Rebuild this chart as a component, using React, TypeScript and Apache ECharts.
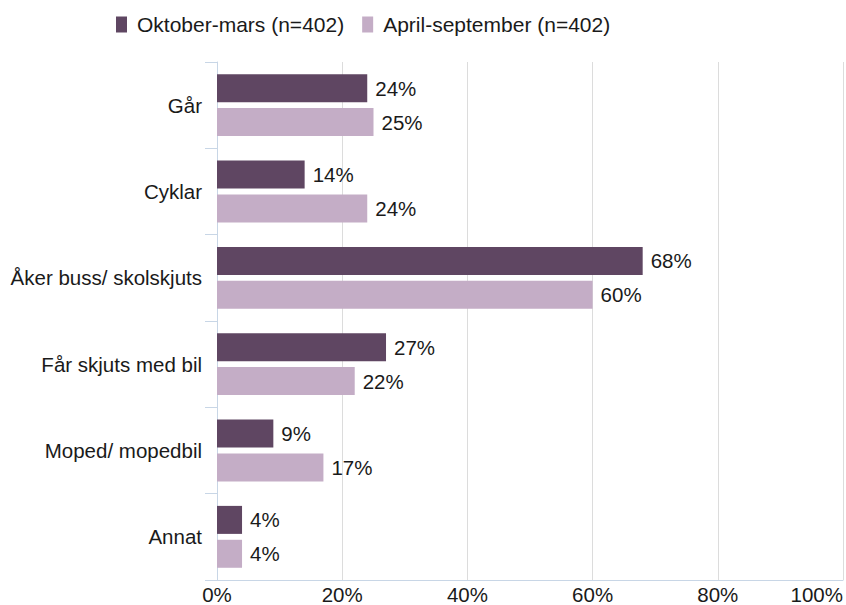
import React, { useEffect, useRef } from "react";
import * as echarts from "echarts";

const categories = ["Går", "Cyklar", "Åker buss/ skolskjuts", "Får skjuts med bil", "Moped/ mopedbil", "Annat"];
const seriesNames = ["Oktober-mars (n=402)", "April-september (n=402)"];
const winterValues = [24, 14, 68, 27, 9, 4];
const summerValues = [25, 24, 60, 22, 17, 4];
const xTicks = [0, 20, 40, 60, 80, 100];

const FONT = "'Liberation Sans', Arial, sans-serif";
const TEXT = "#1a1a1a";
const AXIS_BLUE = "#c8d6e6";

export default function App() {
  const ref = useRef<HTMLDivElement>(null);
  useEffect(() => {
    if (!ref.current) return;
    const chart = echarts.init(ref.current, null, { renderer: "svg" });
    const barLabel = {
      show: true,
      position: "right",
      distance: 8,
      formatter: "{c}%",
      fontSize: 20.5,
      color: TEXT,
      fontFamily: FONT,
    };
    chart.setOption({
      animation: false,
      textStyle: { fontFamily: FONT },
      legend: {
        left: 116,
        top: 14,
        padding: 0,
        itemWidth: 11,
        itemHeight: 16,
        itemGap: 18,
        icon: "rect",
        textStyle: { fontSize: 21, color: TEXT, fontFamily: FONT, padding: [0, 0, 0, 5] },
        data: seriesNames,
      },
      grid: { left: 217, right: 0, top: 62, bottom: 23, containLabel: false },
      xAxis: {
        type: "value",
        min: xTicks[0],
        max: xTicks[xTicks.length - 1],
        interval: 20,
        axisLine: { show: true, lineStyle: { color: AXIS_BLUE, width: 1 } },
        axisTick: { show: false },
        splitLine: { show: true, lineStyle: { color: "#dcdcdc", width: 1 } },
        axisLabel: {
          formatter: "{value}%",
          fontSize: 20.5,
          color: TEXT,
          fontFamily: FONT,
          margin: 4,
          alignMaxLabel: "right",
        },
      },
      yAxis: {
        type: "category",
        inverse: true,
        data: categories,
        axisLine: { show: true, lineStyle: { color: AXIS_BLUE, width: 1 } },
        axisTick: { show: true, length: 12, lineStyle: { color: AXIS_BLUE } },
        axisLabel: { fontSize: 20.5, color: TEXT, fontFamily: FONT, margin: 15 },
      },
      series: [
        {
          name: seriesNames[0],
          type: "bar",
          data: winterValues,
          barWidth: 28,
          barGap: "21%",
          itemStyle: { color: "#5f4662" },
          label: barLabel,
        },
        {
          name: seriesNames[1],
          type: "bar",
          data: summerValues,
          barWidth: 28,
          barGap: "21%",
          itemStyle: { color: "#c4adc6" },
          label: barLabel,
        },
      ],
    });
    return () => chart.dispose();
  }, []);
  return (
    <div
      ref={ref}
      style={{ position: "fixed", left: 0, top: 0, width: 846, height: 605, background: "#fff" }}
    />
  );
}
